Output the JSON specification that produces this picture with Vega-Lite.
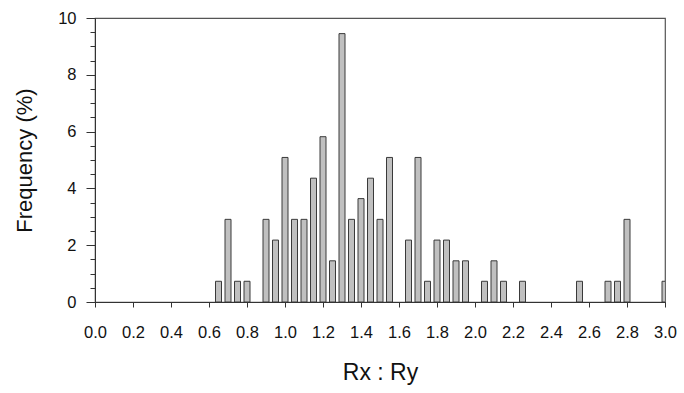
{
  "$schema": "https://vega.github.io/schema/vega-lite/v6.json",
  "autosize": {"type": "none"},
  "padding": {"left": 95, "top": 18, "right": 19, "bottom": 91},
  "width": 570,
  "height": 284,
  "background": "white",
  "config": {
    "view": {"stroke": "#555", "strokeWidth": 1.2},
    "axis": {"labelColor": "#111", "titleColor": "#111", "labelFont": "Liberation Sans", "titleFont": "Liberation Sans", "titleFontWeight": "normal", "grid": false}
  },
  "data": {"values": [
    {"ratio": 0.65, "freq": 0.73},
    {"ratio": 0.70, "freq": 2.91},
    {"ratio": 0.75, "freq": 0.73},
    {"ratio": 0.80, "freq": 0.73},
    {"ratio": 0.90, "freq": 2.91},
    {"ratio": 0.95, "freq": 2.18},
    {"ratio": 1.00, "freq": 5.09},
    {"ratio": 1.05, "freq": 2.91},
    {"ratio": 1.10, "freq": 2.91},
    {"ratio": 1.15, "freq": 4.36},
    {"ratio": 1.20, "freq": 5.82},
    {"ratio": 1.25, "freq": 1.45},
    {"ratio": 1.30, "freq": 9.45},
    {"ratio": 1.35, "freq": 2.91},
    {"ratio": 1.40, "freq": 3.64},
    {"ratio": 1.45, "freq": 4.36},
    {"ratio": 1.50, "freq": 2.91},
    {"ratio": 1.55, "freq": 5.09},
    {"ratio": 1.65, "freq": 2.18},
    {"ratio": 1.70, "freq": 5.09},
    {"ratio": 1.75, "freq": 0.73},
    {"ratio": 1.80, "freq": 2.18},
    {"ratio": 1.85, "freq": 2.18},
    {"ratio": 1.90, "freq": 1.45},
    {"ratio": 1.95, "freq": 1.45},
    {"ratio": 2.05, "freq": 0.73},
    {"ratio": 2.10, "freq": 1.45},
    {"ratio": 2.15, "freq": 0.73},
    {"ratio": 2.25, "freq": 0.73},
    {"ratio": 2.55, "freq": 0.73},
    {"ratio": 2.70, "freq": 0.73},
    {"ratio": 2.75, "freq": 0.73},
    {"ratio": 2.80, "freq": 2.91},
    {"ratio": 3.00, "freq": 0.73}
  ]},
  "layer": [
    {
      "mark": {"type": "bar", "size": 6, "fill": "#c0c0c0", "stroke": "#3a3a3a", "strokeWidth": 1, "clip": true},
      "encoding": {
        "x": {"field": "ratio", "type": "quantitative", "scale": {"domain": [0, 3], "nice": false, "zero": false, "padding": 0},
          "axis": {"title": "Rx : Ry", "values": [0, 0.2, 0.4, 0.6, 0.8, 1.0, 1.2, 1.4, 1.6, 1.8, 2.0, 2.2, 2.4, 2.6, 2.8, 3.0], "format": ".1f", "ticks": true, "tickOpacity": 1, "tickColor": "#333", "tickWidth": 1, "tickSize": 5, "domainColor": "#333", "domainOpacity": 1, "domainWidth": 1, "labelFontSize": 16.5, "labelPadding": 17, "titleFontSize": 23, "titleY": 70, "titleBaseline": "middle", "labelFlush": false}},
        "y": {"field": "freq", "type": "quantitative", "scale": {"domain": [0, 10], "nice": false},
          "axis": {"title": "Frequency (%)", "orient": "left", "values": [0, 2, 4, 6, 8, 10], "ticks": true, "tickOpacity": 1, "tickColor": "#333", "tickWidth": 1, "tickSize": 9, "domainColor": "#333", "domainOpacity": 1, "domainWidth": 1, "labelFontSize": 16.5, "labelPadding": 10, "titleFontSize": 22, "titleX": -71, "titleY": 142, "titleBaseline": "middle", "titleAngle": -90, "labelFlush": false}}
      }
    },
    {
      "mark": {"type": "point", "opacity": 0},
      "encoding": {
        "y": {"field": "freq", "type": "quantitative",
          "axis": {"orient": "left", "title": null, "labels": false, "domain": false, "ticks": true, "tickOpacity": 1, "tickColor": "#333", "tickWidth": 1, "tickSize": 5, "values": [0.5, 1, 1.5, 2.5, 3, 3.5, 4.5, 5, 5.5, 6.5, 7, 7.5, 8.5, 9, 9.5]}}
      }
    }
  ],
  "resolve": {"axis": {"y": "independent"}}
}
